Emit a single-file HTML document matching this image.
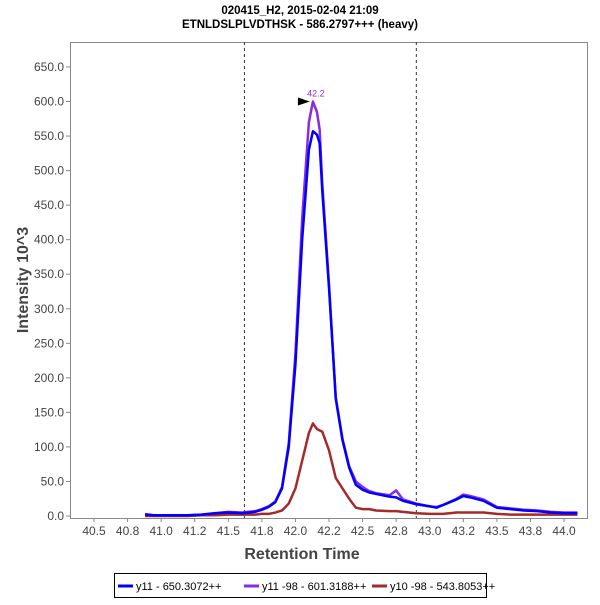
<!DOCTYPE html>
<html><head><meta charset="utf-8"><style>
body{margin:0;background:#fff;font-family:"Liberation Sans",sans-serif;}
</style></head><body>
<svg id="chart" width="600" height="600" xmlns="http://www.w3.org/2000/svg">
<rect width="600" height="600" fill="#fff"/>
<text x="300" y="14" text-anchor="middle" font-size="11.5" font-weight="bold">020415_H2, 2015-02-04 21:09</text>
<text x="300" y="28" text-anchor="middle" font-size="11.5" font-weight="bold">ETNLDSLPLVDTHSK - 586.2797+++ (heavy)</text>
<g id="plot"></g>
<text x="302" y="559" text-anchor="middle" font-size="16" font-weight="bold" fill="#444">Retention Time</text>
<text transform="translate(28,280) rotate(-90)" text-anchor="middle" font-size="16" font-weight="bold" fill="#444">Intensity 10^3</text>
<g>
<rect x="114.5" y="573.5" width="372" height="24" fill="#fff" stroke="#000"/>
<g><line x1="118" y1="586" x2="133" y2="586" stroke="#0000ff" stroke-width="3"/><text x="136" y="590" font-size="11">y11 - 650.3072++</text></g>
<g><line x1="244" y1="586" x2="259" y2="586" stroke="#8a2be2" stroke-width="3"/><text x="262" y="590" font-size="11">y11 -98 - 601.3188++</text></g>
<g><line x1="372" y1="586" x2="387" y2="586" stroke="#a52a2a" stroke-width="3"/><text x="390" y="590" font-size="11">y10 -98 - 543.8053++</text></g>
</g>
</svg>
<script>
const times=[40.88,40.95,41.0,41.1,41.2,41.3,41.4,41.5,41.6,41.7,41.75,41.8,41.85,41.9,41.95,42.0,42.05,42.1,42.13,42.16,42.18,42.2,42.25,42.3,42.35,42.4,42.45,42.5,42.55,42.6,42.7,42.75,42.8,42.9,43.0,43.05,43.1,43.2,43.25,43.3,43.4,43.5,43.6,43.7,43.8,43.9,44.0,44.1];
const y11=[2,1,1,1,1,2,4,5,4,6,9,13,20,40,100,220,400,530,557,552,540,470,330,170,110,70,45,38,34,32,28,27,22,17,14,12,16,24,29,27,22,12,10,8,7,5,4,4];
const y11m98=[3,1,1,1,1,2,4,6,5,7,10,14,21,42,105,235,430,570,600,585,560,480,335,172,112,72,50,42,36,33,30,37,24,18,14,13,16,25,31,29,24,13,11,9,8,6,5,5];
const y10m98=[0,0,0,0,0,1,1,2,2,2,3,3,5,8,18,40,80,120,134,126,124,122,95,55,40,25,12,10,10,8,7,7,6,4,3,3,3,5,5,5,5,3,2,2,2,2,2,2];
const xTicks=[40.5,40.75,41.0,41.25,41.5,41.75,42.0,42.25,42.5,42.75,43.0,43.25,43.5,43.75,44.0];
const xTickLabels=["40.5","40.8","41.0","41.2","41.5","41.8","42.0","42.2","42.5","42.8","43.0","43.2","43.5","43.8","44.0"];
const yTicks=[0,50,100,150,200,250,300,350,400,450,500,550,600,650];
const markers=[41.62,42.9];
const peakTime=42.13, peakValue=600, peakLabel="42.2";
const NS="http://www.w3.org/2000/svg";
const L=70,R=587,T=42,B=518;
const X=t=>94+(t-40.5)*134.3;
const Y=v=>516-v*0.6908;
const g=document.getElementById('plot');
function el(tag,a,p){const e=document.createElementNS(NS,tag);for(const k in a)e.setAttribute(k,a[k]);(p||g).appendChild(e);return e;}
const frame=el('rect',{x:L+.5,y:T+.5,width:R-L,height:B-T,fill:'none',stroke:'#888'});


yTicks.forEach(v=>{
 el('line',{x1:L-4,x2:L,y1:Y(v),y2:Y(v),stroke:'#888'});
 const t=el('text',{x:L-6,y:Y(v)+4,'text-anchor':'end','font-size':'12',fill:'#444'});
 t.textContent=v.toFixed(1);
 
 
});
xTicks.forEach((v,i)=>{
 el('line',{x1:X(v),x2:X(v),y1:B,y2:B+4,stroke:'#888'});
 const t=el('text',{x:X(v),y:B+17,'text-anchor':'middle','font-size':'12',fill:'#444'});
 t.textContent=xTickLabels[i];
 
 
});
markers.forEach(m=>{
 const l=el('line',{x1:X(m),x2:X(m),y1:T,y2:B,stroke:'#333','stroke-dasharray':'3,3'});
 
 
});
function series(vals,color,name){
 const p=el('polyline',{points:times.map((t,i)=>X(t)+','+Y(vals[i])).join(' '),fill:'none',stroke:color,'stroke-width':'2.5','stroke-linejoin':'round'});
 
 
}
series(y10m98,'#a52a2a','series-y10-98');
series(y11m98,'#8a2be2','series-y11-98');
series(y11,'#0000ff','series-y11');
const pl=el('text',{x:X(peakTime)+3,y:Y(peakValue)-5,'text-anchor':'middle','font-size':'9',fill:'#8a2be2'});
pl.textContent=peakLabel;


const px=X(peakTime)-3,py=Y(peakValue);
const ar=el('polygon',{points:`${px},${py} ${px-12},${py-4} ${px-12},${py+4}`,fill:'#000'});


</script>
</body></html>
